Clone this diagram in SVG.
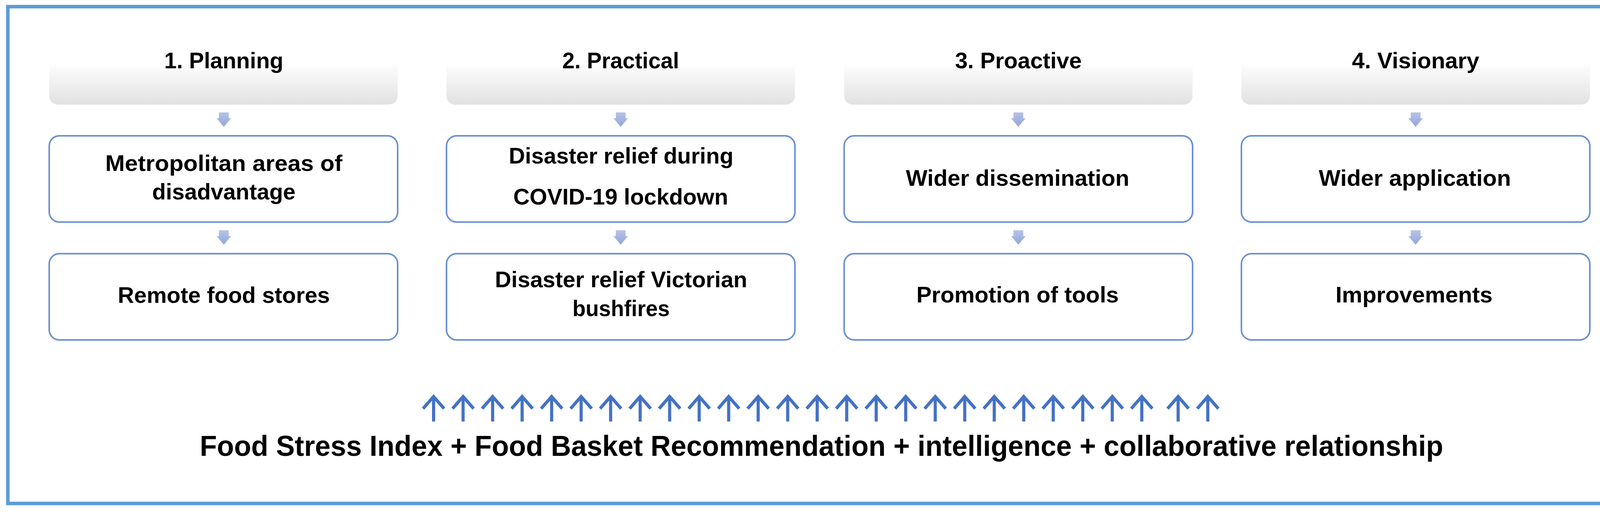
<svg xmlns="http://www.w3.org/2000/svg" xmlns:xlink="http://www.w3.org/1999/xlink" width="4224" height="1317" viewBox="0 0 4224 1317">
<defs>
<style>
.t{font-family:"Liberation Sans",Arial,sans-serif;font-weight:bold;font-size:57px;fill:#000;text-anchor:middle}
.big{font-family:"Liberation Sans",Arial,sans-serif;font-weight:bold;font-size:75px;fill:#000;text-anchor:middle}
.hdr{fill:url(#hdrGrad);stroke:none}
.box{fill:#fff;stroke:#6A8FD6;stroke-width:4}
.dn{fill:url(#dnGrad)}
.up{fill:none;stroke:#4472C4;stroke-width:8;stroke-linejoin:miter}
</style>
<linearGradient id="hdrGrad" x1="0" y1="0" x2="0" y2="1">
<stop offset="0" stop-color="#FFFFFF"/>
<stop offset="0.35" stop-color="#FFFFFF"/>
<stop offset="1" stop-color="#E1E1E1"/>
</linearGradient>
<linearGradient id="dnGrad" x1="0" y1="0" x2="0" y2="1">
<stop offset="0" stop-color="#B6C3E8"/>
<stop offset="1" stop-color="#93A6DA"/>
</linearGradient>
<path id="dnArrow" d="M-12.5,0 H12.5 V15 H18.5 L0,37 L-18.5,15 H-12.5 Z"/>
<path id="upArrow" d="M0,67 V4 M-27,34 L0,3 L27,34"/>
</defs>
<rect x="0" y="0" width="4224" height="1317" fill="#FFFFFF"/>
<rect id="frame" x="20" y="17" width="4182" height="1273" fill="none" stroke="#5B9BD5" stroke-width="9"/>

<g id="col1-header"><rect class="hdr" x="126" y="100" width="892" height="168" rx="22"/><text class="t" x="573" y="175" textLength="305" lengthAdjust="spacingAndGlyphs">1. Planning</text></g>
<g id="col2-header"><rect class="hdr" x="1143" y="100" width="892" height="168" rx="22"/><text class="t" x="1589" y="175" textLength="299" lengthAdjust="spacingAndGlyphs">2. Practical</text></g>
<g id="col3-header"><rect class="hdr" x="2161" y="100" width="892" height="168" rx="22"/><text class="t" x="2607" y="175" textLength="324" lengthAdjust="spacingAndGlyphs">3. Proactive</text></g>
<g id="col4-header"><rect class="hdr" x="3178" y="100" width="892" height="168" rx="22"/><text class="t" x="3624" y="175" textLength="326" lengthAdjust="spacingAndGlyphs">4. Visionary</text></g>

<g id="col1-box1"><rect class="box" x="126" y="348" width="892" height="221" rx="26"/><text class="t" x="573" y="438" textLength="607" lengthAdjust="spacingAndGlyphs">Metropolitan areas of</text><text class="t" x="573" y="511" textLength="367" lengthAdjust="spacingAndGlyphs">disadvantage</text></g>
<g id="col2-box1"><rect class="box" x="1143" y="348" width="892" height="221" rx="26"/><text class="t" x="1590" y="419" textLength="575" lengthAdjust="spacingAndGlyphs">Disaster relief during</text><text class="t" x="1589" y="524" textLength="550" lengthAdjust="spacingAndGlyphs">COVID-19 lockdown</text></g>
<g id="col3-box1"><rect class="box" x="2161" y="348" width="892" height="221" rx="26"/><text class="t" x="2605" y="476" textLength="572" lengthAdjust="spacingAndGlyphs">Wider dissemination</text></g>
<g id="col4-box1"><rect class="box" x="3178" y="348" width="892" height="221" rx="26"/><text class="t" x="3622" y="476" textLength="492" lengthAdjust="spacingAndGlyphs">Wider application</text></g>

<g id="col1-box2"><rect class="box" x="126" y="650" width="892" height="221" rx="26"/><text class="t" x="573" y="776" textLength="543" lengthAdjust="spacingAndGlyphs">Remote food stores</text></g>
<g id="col2-box2"><rect class="box" x="1143" y="650" width="892" height="221" rx="26"/><text class="t" x="1590" y="736" textLength="646" lengthAdjust="spacingAndGlyphs">Disaster relief Victorian</text><text class="t" x="1590" y="810" textLength="249" lengthAdjust="spacingAndGlyphs">bushfires</text></g>
<g id="col3-box2"><rect class="box" x="2161" y="650" width="892" height="221" rx="26"/><text class="t" x="2605" y="775" textLength="518" lengthAdjust="spacingAndGlyphs">Promotion of tools</text></g>
<g id="col4-box2"><rect class="box" x="3178" y="650" width="892" height="221" rx="26"/><text class="t" x="3620" y="775" textLength="402" lengthAdjust="spacingAndGlyphs">Improvements</text></g>

<g id="basis"><text class="big" x="2103" y="1168" textLength="3183" lengthAdjust="spacingAndGlyphs">Food Stress Index + Food Basket Recommendation + intelligence + collaborative relationship</text></g>

<g id="connectors">
<use href="#dnArrow" class="dn" x="573" y="288"/>
<use href="#dnArrow" class="dn" x="573" y="590"/>
<use href="#dnArrow" class="dn" x="1589" y="288"/>
<use href="#dnArrow" class="dn" x="1589" y="590"/>
<use href="#dnArrow" class="dn" x="2607" y="288"/>
<use href="#dnArrow" class="dn" x="2607" y="590"/>
<use href="#dnArrow" class="dn" x="3624" y="288"/>
<use href="#dnArrow" class="dn" x="3624" y="590"/>
<g class="up">
<use href="#upArrow" x="1110" y="1013"/>
<use href="#upArrow" x="1185.5" y="1013"/>
<use href="#upArrow" x="1261.1" y="1013"/>
<use href="#upArrow" x="1336.6" y="1013"/>
<use href="#upArrow" x="1412.2" y="1013"/>
<use href="#upArrow" x="1487.7" y="1013"/>
<use href="#upArrow" x="1563.2" y="1013"/>
<use href="#upArrow" x="1638.8" y="1013"/>
<use href="#upArrow" x="1714.3" y="1013"/>
<use href="#upArrow" x="1789.9" y="1013"/>
<use href="#upArrow" x="1865.4" y="1013"/>
<use href="#upArrow" x="1940.9" y="1013"/>
<use href="#upArrow" x="2016.5" y="1013"/>
<use href="#upArrow" x="2092" y="1013"/>
<use href="#upArrow" x="2167.6" y="1013"/>
<use href="#upArrow" x="2243.1" y="1013"/>
<use href="#upArrow" x="2318.6" y="1013"/>
<use href="#upArrow" x="2394.2" y="1013"/>
<use href="#upArrow" x="2469.7" y="1013"/>
<use href="#upArrow" x="2545.3" y="1013"/>
<use href="#upArrow" x="2620.8" y="1013"/>
<use href="#upArrow" x="2696.3" y="1013"/>
<use href="#upArrow" x="2771.9" y="1013"/>
<use href="#upArrow" x="2847.4" y="1013"/>
<use href="#upArrow" x="2923" y="1013"/>
<use href="#upArrow" x="3016" y="1013"/>
<use href="#upArrow" x="3092" y="1013"/>
</g>
</g>
</svg>
